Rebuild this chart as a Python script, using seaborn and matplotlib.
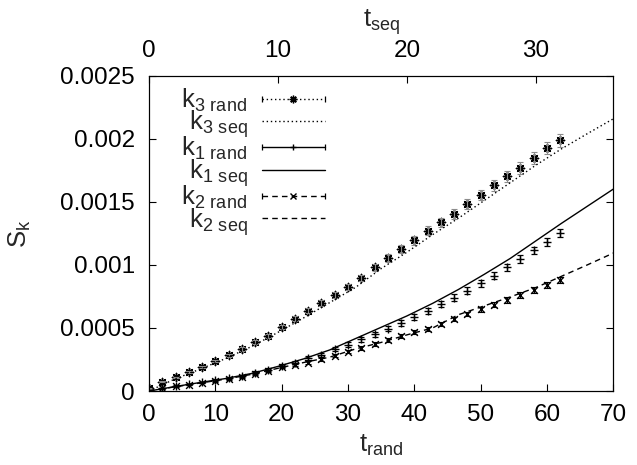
import matplotlib
matplotlib.use("Agg")
import matplotlib.pyplot as plt
import seaborn as sns
from matplotlib.lines import Line2D
from matplotlib.legend_handler import HandlerTuple, HandlerLine2D
from matplotlib.ticker import FuncFormatter

# ---------------- data ----------------
t_rand = [0, 2, 4, 6, 8, 10, 12, 14, 16, 18, 20, 22, 24, 26, 28, 30,
          32, 34, 36, 38, 40, 42, 44, 46, 48, 50, 52, 54, 56, 58, 60, 62]

k3_rand = [0.000020, 0.000074, 0.000109, 0.000148, 0.000193, 0.000238, 0.000283, 0.000333,
           0.000389, 0.000439, 0.000508, 0.000572, 0.000638, 0.000696, 0.000762, 0.000823,
           0.000895, 0.000982, 0.001054, 0.001124, 0.001193, 0.001270, 0.001336, 0.001403,
           0.001482, 0.001551, 0.001630, 0.001702, 0.001768, 0.001848, 0.001927, 0.001987]
k3_err = [0.000003, 0.000005, 0.000006, 0.000008, 0.000009, 0.000010, 0.000012, 0.000013,
          0.000015, 0.000016, 0.000018, 0.000019, 0.000021, 0.000022, 0.000024, 0.000025,
          0.000027, 0.000028, 0.000030, 0.000031, 0.000033, 0.000034, 0.000036, 0.000037,
          0.000039, 0.000040, 0.000042, 0.000043, 0.000045, 0.000046, 0.000048, 0.000050]

k1_rand = [0.000010, 0.000021, 0.000040, 0.000053, 0.000069, 0.000085, 0.000100, 0.000119,
           0.000145, 0.000170, 0.000200, 0.000225, 0.000260, 0.000288, 0.000331, 0.000368,
           0.000410, 0.000450, 0.000492, 0.000540, 0.000588, 0.000635, 0.000691, 0.000741,
           0.000795, 0.000855, 0.000913, 0.000979, 0.001046, 0.001114, 0.001181, 0.001252]
k1_err = [0.000002, 0.000003, 0.000004, 0.000005, 0.000006, 0.000007, 0.000008, 0.000009,
          0.000010, 0.000011, 0.000012, 0.000013, 0.000014, 0.000015, 0.000016, 0.000017,
          0.000018, 0.000019, 0.000020, 0.000021, 0.000022, 0.000023, 0.000024, 0.000025,
          0.000026, 0.000027, 0.000028, 0.000029, 0.000030, 0.000031, 0.000032, 0.000033]

k2_rand = [0.000010, 0.000020, 0.000036, 0.000050, 0.000065, 0.000080, 0.000096, 0.000113,
           0.000136, 0.000160, 0.000188, 0.000206, 0.000225, 0.000252, 0.000278, 0.000312,
           0.000341, 0.000372, 0.000402, 0.000434, 0.000466, 0.000494, 0.000530, 0.000570,
           0.000610, 0.000649, 0.000683, 0.000723, 0.000762, 0.000802, 0.000839, 0.000881]
k2_err = [0.000002, 0.000002, 0.000003, 0.000004, 0.000004, 0.000005, 0.000006, 0.000007,
          0.000007, 0.000008, 0.000009, 0.000010, 0.000010, 0.000011, 0.000012, 0.000013,
          0.000013, 0.000014, 0.000015, 0.000016, 0.000016, 0.000017, 0.000018, 0.000019,
          0.000019, 0.000020, 0.000021, 0.000022, 0.000022, 0.000023, 0.000024, 0.000025]

t_seq = [0, 2, 4, 6, 8, 10, 12, 14, 16, 18, 20, 22, 24, 26, 28, 30, 32, 34, 36]
k3_seq = [0.0, 0.000095, 0.000175, 0.000260, 0.000355, 0.000465, 0.000580, 0.000700,
          0.000820, 0.000970, 0.001100, 0.001240, 0.001370, 0.001510, 0.001650, 0.001790,
          0.001920, 0.002040, 0.002157]
k1_seq = [0.0, 0.000035, 0.000068, 0.000100, 0.000140, 0.000195, 0.000255, 0.000325,
          0.000415, 0.000505, 0.000595, 0.000695, 0.000805, 0.000925, 0.001050, 0.001190,
          0.001330, 0.001465, 0.001600]
k2_seq = [0.0, 0.000033, 0.000064, 0.000095, 0.000133, 0.000180, 0.000226, 0.000268,
          0.000333, 0.000385, 0.000445, 0.000500, 0.000605, 0.000675, 0.000745, 0.000820,
          0.000910, 0.001000, 0.001093]

x_ticks = [0, 10, 20, 30, 40, 50, 60, 70]
seq_ticks = [0, 10, 20, 30]
y_ticks = [0, 0.0005, 0.001, 0.0015, 0.002, 0.0025]

# ---------------- style ----------------
sns.set_theme(style="white")
plt.rcParams["font.family"] = ["Liberation Sans", "DejaVu Sans"]
plt.rcParams["mathtext.default"] = "regular"
plt.rcParams["axes.edgecolor"] = "black"
plt.rcParams["axes.linewidth"] = 0.8

FS = 17.5      # tick labels
FL = 18.5      # legend / axis labels
DOT = (0, (1, 2))
DASH = (0, (4, 3))
STAR = (8, 2, 0)

fig = plt.figure(figsize=(6.37, 4.65), dpi=100)
ax = fig.add_axes([0.2339, 0.1591, 0.7289, 0.6785])
ax2 = ax.twiny()

# seq curves on the top (t_seq) axis
sns.lineplot(x=t_seq, y=k3_seq, ax=ax2, color="black", lw=1.0, linestyle=DOT)
sns.lineplot(x=t_seq, y=k1_seq, ax=ax2, color="black", lw=1.0, linestyle="-")
sns.lineplot(x=t_seq, y=k2_seq, ax=ax2, color="black", lw=1.0, linestyle=DASH)

# rand points on bottom (t_rand) axis, with error bars
ax.errorbar(t_rand, k3_rand, yerr=k3_err, fmt="none", ecolor="0.55", elinewidth=0.8,
            capsize=2.4, capthick=0.8)
ax.errorbar(t_rand, k1_rand, yerr=k1_err, fmt="none", ecolor="black", elinewidth=0.9,
            capsize=2.4, capthick=0.9)
ax.errorbar(t_rand, k2_rand, yerr=k2_err, fmt="none", ecolor="black", elinewidth=0.8,
            capsize=2.0, capthick=0.8)
sns.scatterplot(x=t_rand, y=k3_rand, ax=ax, marker=STAR, s=34, color="black", linewidth=1.1)
sns.scatterplot(x=t_rand, y=k1_rand, ax=ax, marker="+", s=26, color="black", linewidth=1.0)
sns.scatterplot(x=t_rand, y=k2_rand, ax=ax, marker="x", s=24, color="black", linewidth=1.0)

# axes limits / ticks
ax.set_xlim(0, 70)
ax.set_ylim(0, 0.0025)
ax2.set_xlim(0, 36)
ax2.set_ylim(0, 0.0025)
ax.set_xticks(x_ticks)
ax.set_yticks(y_ticks)
ax2.set_xticks(seq_ticks)
ax.yaxis.set_major_formatter(FuncFormatter(lambda v, p: "%g" % v))

ax.tick_params(axis="x", direction="in", length=5, width=0.8, labelsize=FS, pad=9,
               bottom=True, top=False, colors="black")
ax.tick_params(axis="y", direction="in", length=5, width=0.8, labelsize=FS, pad=10,
               left=True, right=True, labelright=False, colors="black")
ax2.tick_params(axis="x", direction="in", length=5, width=0.8, labelsize=FS, pad=10,
                top=True, bottom=False, colors="black")
ax2.tick_params(axis="y", left=False, right=False, labelleft=False, labelright=False)

ax.set_xlabel("$t_{rand}$", fontsize=FL, labelpad=5)
ax2.set_xlabel("$t_{seq}$", fontsize=FL, labelpad=9)
ax.set_ylabel("$S_k$", fontsize=FL, labelpad=20)

for a in (ax, ax2):
    for s in a.spines.values():
        s.set_color("black")
        s.set_linewidth(0.8)

# ---------------- legend (gnuplot style) ----------------
def ends():
    return Line2D([], [], ls="none", marker="|", ms=4, mew=0.9, color="black")

e3, e1, e2 = ends(), ends(), ends()
h_k3r = (Line2D([], [], ls=DOT, lw=1.0, color="black", marker=STAR, ms=5.5, mew=1.0), e3)
h_k3s = Line2D([], [], ls=DOT, lw=1.0, color="black")
h_k1r = (Line2D([], [], ls="-", lw=1.0, color="black", marker="+", ms=5, mew=1.0), e1)
h_k1s = Line2D([], [], ls="-", lw=1.0, color="black")
h_k2r = (Line2D([], [], ls=DASH, lw=1.0, color="black", marker="x", ms=4.5, mew=1.0), e2)
h_k2s = Line2D([], [], ls=DASH, lw=1.0, color="black")

labels = ["$k_{3\\ rand}$", "$k_{3\\ seq}$", "$k_{1\\ rand}$",
          "$k_{1\\ seq}$", "$k_{2\\ rand}$", "$k_{2\\ seq}$"]
hm = {tuple: HandlerTuple(ndivide=1)}
for e in (e3, e1, e2):
    hm[e] = HandlerLine2D(numpoints=2, marker_pad=0)

leg = ax.legend([h_k3r, h_k3s, h_k1r, h_k1s, h_k2r, h_k2s], labels, handler_map=hm,
                loc="upper right", bbox_to_anchor=(0.378, 0.965), frameon=False,
                markerfirst=False, numpoints=1, fontsize=FL, handlelength=2.45,
                handletextpad=0.55, labelspacing=-0.2, borderpad=0, borderaxespad=0)

fig.savefig("out.png", dpi=100)
